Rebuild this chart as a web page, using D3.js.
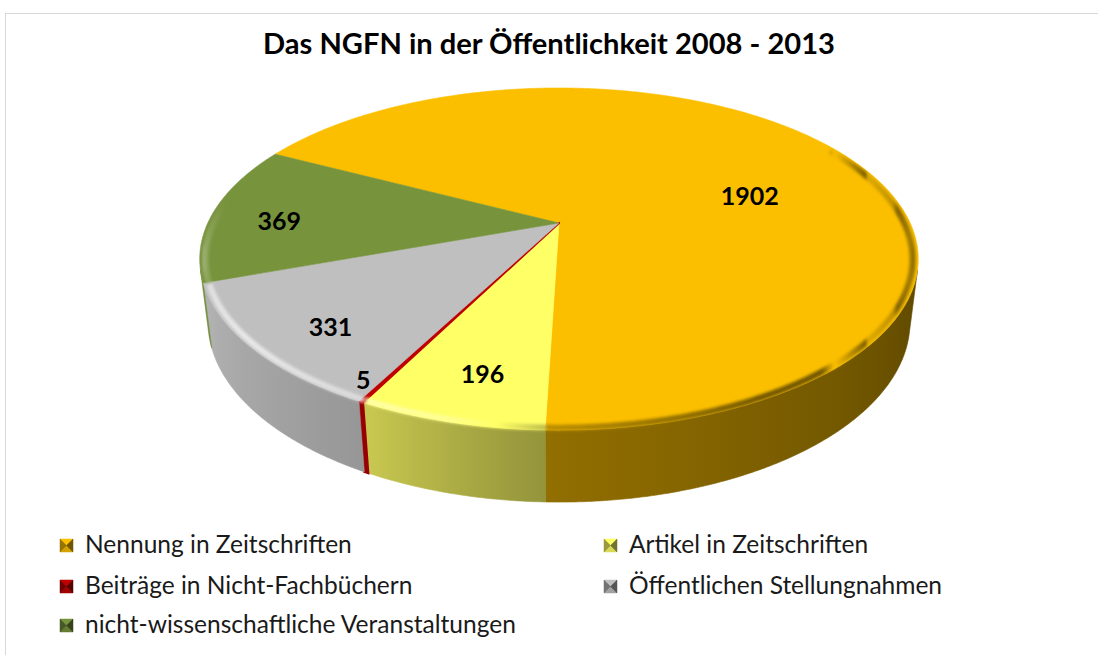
<!DOCTYPE html>
<html>
<head>
<meta charset="utf-8">
<script src="https://cdn.jsdelivr.net/npm/d3@7"></script>
<style>
  body { margin: 0; background: #fff; }
  svg { display: block; }
</style>
</head>
<body>
<svg id="chart" width="1098" height="655"></svg>
<script>
// data
var chartTitle = "Das NGFN in der Öffentlichkeit 2008 - 2013";
var categories = ["Nennung in Zeitschriften", "Artikel in Zeitschriften",
                  "Beiträge in Nicht-Fachbüchern", "Öffentlichen Stellungnahmen",
                  "nicht-wissenschaftliche Veranstaltungen"];
var values = [1902, 196, 5, 331, 369];
var colors = ["#fbbf00", "#ffff66", "#c00000", "#bfbfbf", "#77933c"];

// label placement tweaks (degrees / radius fraction), like excel's own placement
var labelShift = [13, -1, 3, -3, -2.5];
var labelR = [0.59, 0.79, 0.92, 0.8, 0.8];

var W = 1098, H = 655;
var svg = d3.select("#chart");
var rad = Math.PI / 180;

// perspective view of the disc
var CX = 559, CY = 223;
var DIST = 4.2, SIN_E = 0.4655, COS_E = Math.sqrt(1 - SIN_E * SIN_E);
var FOCAL = 1475, THICK = 0.203;
var START = -62.5 * rad;

function project(theta, r, h) {
    var X = r * Math.sin(theta), Z = -r * Math.cos(theta), Y = h;
    var depth = DIST - Z * COS_E + Y * SIN_E;
    return [CX + FOCAL * X / depth, CY + FOCAL * (Y * COS_E + Z * SIN_E) / depth];
}

function arcPoints(a, b, r, h) {
    var n = Math.max(2, Math.ceil((b - a) / (0.4 * rad)));
    var pts = [];
    for (var i = 0; i <= n; i++) pts.push(project(a + (b - a) * i / n, r, h));
    return pts;
}

svg.append("rect").attr("width", W).attr("height", H).attr("fill", "#fff");
svg.append("rect")
    .attr("x", 5.5).attr("y", 13.5)
    .attr("width", W + 20).attr("height", H + 20)
    .attr("fill", "none").attr("stroke", "#d9d9d9");

var defs = svg.append("defs");
defs.append("filter").attr("id", "soft")
    .attr("x", "-5%").attr("y", "-5%").attr("width", "110%").attr("height", "110%")
    .append("feGaussianBlur").attr("stdDeviation", 1.6);

var arcs = d3.pie().sort(null).startAngle(START).endAngle(START + 2 * Math.PI)(values);

var line = d3.line();

// light on the wall
var sideShade = d3.scaleLinear()
    .domain([105, 182, 207, 254].map(function(d) { return d * rad; }))
    .range([0.37, 0.58, 0.79, 0.96])
    .clamp(true);

// bevel light along the rim: >0 toward white, <0 toward black
var bevelLight = d3.scaleLinear()
    .domain([60, 100, 150, 182, 195, 230, 256, 280].map(function(d) { return d * rad; }))
    .range([0, -0.45, -0.55, -0.25, 0.3, 0.65, 0.4, 0])
    .clamp(true);

function shade(c, k) {
    var rgb = d3.rgb(c);
    return d3.rgb(rgb.r * k, rgb.g * k, rgb.b * k).formatHex();
}
function bevelColor(c, t) {
    return t >= 0 ? d3.interpolateRgb(c, "#ffffff")(t) : d3.interpolateRgb(c, "#000000")(-t);
}

function xGradient(id, a, b, colorAt) {
    var n = 12, stops = [];
    for (var i = 0; i <= n; i++) {
        var th = a + (b - a) * i / n;
        stops.push({ x: project(th, 1, 0)[0], c: colorAt(th) });
    }
    var x1 = d3.min(stops, function(d) { return d.x; });
    var x2 = d3.max(stops, function(d) { return d.x; });
    stops.sort(function(p, q) { return p.x - q.x; });
    var g = defs.append("linearGradient").attr("id", id)
        .attr("gradientUnits", "userSpaceOnUse")
        .attr("x1", x1).attr("x2", x2 > x1 ? x2 : x1 + 1).attr("y1", 0).attr("y2", 0);
    stops.forEach(function(s) {
        g.append("stop")
            .attr("offset", x2 > x1 ? (s.x - x1) / (x2 - x1) : 0)
            .attr("stop-color", s.c);
    });
}

// visible part of the outer wall
var visLimit = Math.acos(-1 / (DIST * COS_E));
var visA = visLimit, visB = 2 * Math.PI - visLimit;

// very thin slices get a wider outline so they still read as a line
function edgeWidth(d) { return (d.endAngle - d.startAngle) < 2 * rad ? 2.2 : 0.6; }

// clip for the bevel: whole top disc plus the visible wall
var clip = defs.append("clipPath").attr("id", "solid");
clip.append("path").attr("d", line(arcPoints(0, 2 * Math.PI, 1, 0)) + "Z");
clip.append("path").attr("d",
    line(arcPoints(visA, visB, 1, 0).concat(arcPoints(visA, visB, 1, THICK).reverse())) + "Z");

var sides = svg.append("g");
arcs.forEach(function(d, i) {
    var a = Math.max(d.startAngle, visA), b = Math.min(d.endAngle, visB);
    if (b <= a) return;
    xGradient("side" + i, a, b, function(th) { return shade(colors[i], sideShade(th)); });
    var pts = arcPoints(a, b, 1, 0).concat(arcPoints(a, b, 1, THICK).reverse());
    sides.append("path")
        .attr("d", line(pts) + "Z")
        .attr("fill", "url(#side" + i + ")")
        .attr("stroke", "url(#side" + i + ")")
        .attr("stroke-width", edgeWidth(d));
});

var tops = svg.append("g");
arcs.forEach(function(d, i) {
    var pts = [project(0, 0, 0)].concat(arcPoints(d.startAngle, d.endAngle, 1, 0));
    tops.append("path")
        .attr("d", line(pts) + "Z")
        .attr("fill", colors[i])
        .attr("stroke", colors[i])
        .attr("stroke-width", edgeWidth(d))
        .attr("stroke-linejoin", "round");
});

// soft bevel on the rim
var bevel = svg.append("g").attr("clip-path", "url(#solid)")
    .append("g").attr("filter", "url(#soft)");
arcs.forEach(function(d, i) {
    var a = Math.max(d.startAngle, 60 * rad), b = Math.min(d.endAngle, 280 * rad);
    if (b <= a) return;
    xGradient("bev" + i, a, b, function(th) { return bevelColor(colors[i], bevelLight(th)); });
    bevel.append("path")
        .attr("d", line(arcPoints(a, b, 0.985, 0.004)))
        .attr("fill", "none")
        .attr("stroke", "url(#bev" + i + ")")
        .attr("stroke-width", 6);
});

// value labels
var labels = svg.append("g")
    .attr("font-family", "Lato, 'Open Sans', sans-serif")
    .attr("font-weight", "bold")
    .attr("font-size", 25)
    .attr("fill", "#000");
arcs.forEach(function(d, i) {
    var mid = (d.startAngle + d.endAngle) / 2 + labelShift[i] * rad;
    var p = project(mid, labelR[i], 0);
    labels.append("text")
        .attr("x", p[0]).attr("y", p[1])
        .attr("text-anchor", "middle")
        .attr("dominant-baseline", "central")
        .text(values[i]);
});

// title
var titleText = svg.append("text")
    .attr("x", 549).attr("y", 54)
    .attr("text-anchor", "middle")
    .attr("font-family", "Lato, 'Open Sans', sans-serif")
    .attr("font-weight", "bold")
    .attr("font-size", 28)
    .text(chartTitle);
var tw = titleText.node().getComputedTextLength();
titleText.attr("font-size", 28 * 572 / tw);

// legend
var legend = svg.append("g")
    .attr("font-family", "Lato, 'Open Sans', sans-serif")
    .attr("fill", "#1a1a1a");
var colX = [60, 604], rowY = [553, 594, 633];
var probe = legend.append("text").attr("font-size", 20).text(categories[0]);
var legendSize = 20 * 267 / probe.node().getComputedTextLength();
probe.remove();

categories.forEach(function(name, i) {
    var mx = colX[i % 2], by = rowY[Math.floor(i / 2)];
    var s = 13, my = by - 14;
    var g = legend.append("g");
    var c = colors[i];
    var tri = [
        { p: [[mx, my], [mx + s, my], [mx + s / 2, my + s / 2]], f: c },
        { p: [[mx, my + s], [mx + s, my + s], [mx + s / 2, my + s / 2]], f: shade(c, 0.85) },
        { p: [[mx, my], [mx, my + s], [mx + s / 2, my + s / 2]], f: shade(c, 0.6) },
        { p: [[mx + s, my], [mx + s, my + s], [mx + s / 2, my + s / 2]], f: shade(c, 0.45) }
    ];
    tri.forEach(function(t) {
        g.append("path").attr("d", line(t.p) + "Z").attr("fill", t.f)
            .attr("stroke", t.f).attr("stroke-width", 0.5);
    });
    legend.append("text")
        .attr("x", mx + 25).attr("y", by)
        .attr("font-size", legendSize)
        .text(name);
});
</script>
</body>
</html>
